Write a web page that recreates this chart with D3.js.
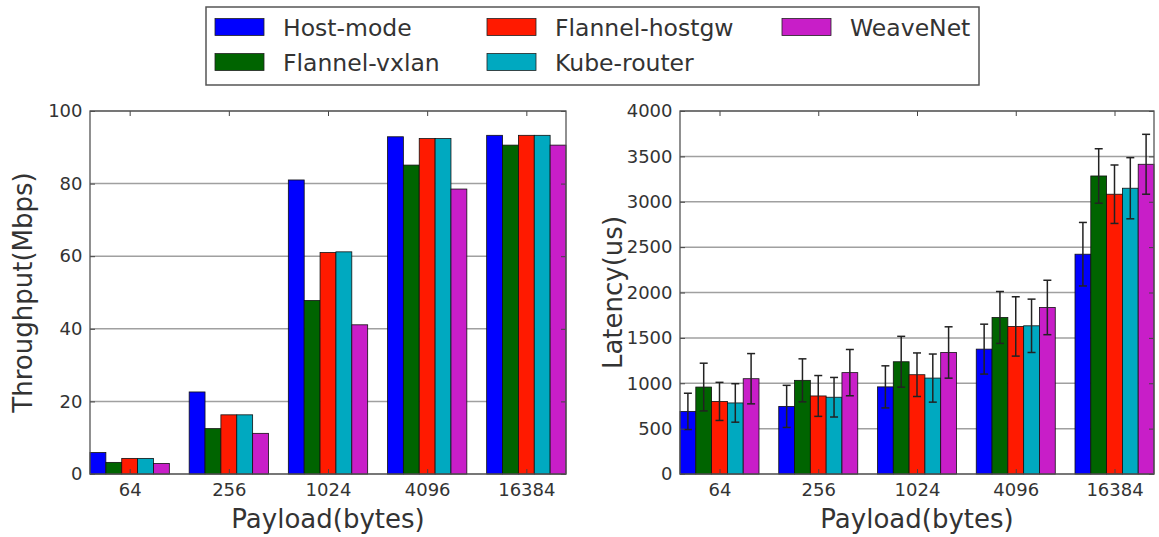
<!DOCTYPE html>
<html>
<head>
<meta charset="utf-8">
<script src="https://cdn.jsdelivr.net/npm/d3@7/dist/d3.min.js"></script>
<style>
	body { margin: 0; background: #fff; }
	svg { display: block; font-family: "DejaVu Sans", sans-serif; }
	.tick text { fill: #333; font-size: 18px; }
	.tick line { stroke: #444; stroke-width: 1; }
</style>
</head>
<body>
<svg id="chart" width="1159" height="537"></svg>
<script>
/** data */
var payloads = ['64', '256', '1024', '4096', '16384'];
var seriesNames = ['Host-mode', 'Flannel-vxlan', 'Flannel-hostgw', 'Kube-router', 'WeaveNet'];
var seriesColors = ['#0000ff', '#006400', '#ff1a00', '#00a9c0', '#c81ec8'];

// throughput (Mbps) per series, one value per payload
var thrHost   = [5.9, 22.6, 81.0, 92.9, 93.3];
var thrVxlan  = [3.2, 12.5, 47.8, 85.1, 90.6];
var thrHostgw = [4.3, 16.3, 61.0, 92.4, 93.3];
var thrKube   = [4.3, 16.3, 61.2, 92.4, 93.3];
var thrWeave  = [2.9, 11.2, 41.1, 78.5, 90.6];

// latency (us) and its error per series
var latHost   = [690, 745, 960, 1376, 2422];
var latVxlan  = [958, 1032, 1237, 1725, 3284];
var latHostgw = [800, 860, 1094, 1626, 3083];
var latKube   = [783, 846, 1057, 1633, 3149];
var latWeave  = [1050, 1117, 1339, 1835, 3413];
var errHost   = [200, 232, 232, 275, 350];
var errVxlan  = [263, 237, 280, 286, 300];
var errHostgw = [210, 225, 240, 327, 322];
var errKube   = [212, 218, 265, 294, 337];
var errWeave  = [277, 255, 283, 300, 330];

var thrTicks = [0, 20, 40, 60, 80, 100];
var latTicks = [0, 500, 1000, 1500, 2000, 2500, 3000, 3500, 4000];

var svg = d3.select('#chart');
var barWidth = 0.16;

/** draw one bar panel */
function drawPanel(p){
	var x = d3.scaleLinear().domain([0, payloads.length * 0.96]).range([p.left, p.right]);
	var y = d3.scaleLinear().domain([0, p.max]).range([p.bottom, p.top]);
	var g = svg.append('g');

	// horizontal grid
	g.selectAll('line.grid')
	.data(p.ticks)
	.enter()
	.append('line')
	.attr('class', 'grid')
	.attr('x1', p.left).attr('x2', p.right)
	.attr('y1', function(d){ return y(d); })
	.attr('y2', function(d){ return y(d); })
	.attr('stroke', '#a0a0a0')
	.attr('stroke-width', 1.5);

	// bars
	p.series.forEach(function(vals, s){
		g.selectAll('rect.s' + s)
		.data(vals)
		.enter()
		.append('rect')
		.attr('class', 's' + s)
		.attr('x', function(d, i){ return x(i + s * barWidth); })
		.attr('width', x(barWidth) - x(0))
		.attr('y', function(d){ return y(d); })
		.attr('height', function(d){ return y(0) - y(d); })
		.attr('fill', seriesColors[s])
		.attr('stroke', '#111')
		.attr('stroke-width', 0.8);
	});

	// error bars
	if(p.errors){
		p.errors.forEach(function(errs, s){
			var vals = p.series[s];
			errs.forEach(function(e, i){
				var cx = x(i + s * barWidth + barWidth / 2);
				var lo = y(vals[i] - e), hi = y(vals[i] + e);
				g.append('line').attr('x1', cx).attr('x2', cx).attr('y1', lo).attr('y2', hi)
				.attr('stroke', '#222').attr('stroke-width', 1.5);
				[lo, hi].forEach(function(yy){
					g.append('line').attr('x1', cx - 4).attr('x2', cx + 4).attr('y1', yy).attr('y2', yy)
					.attr('stroke', '#222').attr('stroke-width', 1.5);
				});
			});
		});
	}

	// axes, ticks inward on all four sides
	var centers = payloads.map(function(d, i){ return i + 0.4; });
	var xAxis = d3.axisBottom(x).tickValues(centers)
		.tickFormat(function(d, i){ return payloads[i]; })
		.tickSizeInner(-5).tickSizeOuter(0).tickPadding(9.5);
	g.append('g').attr('transform', 'translate(0,' + p.bottom + ')').call(xAxis)
	.call(function(a){ a.select('.domain').remove(); });
	g.append('g').attr('transform', 'translate(0,' + p.top + ')')
	.call(d3.axisTop(x).tickValues(centers).tickFormat('').tickSizeInner(-5).tickSizeOuter(0))
	.call(function(a){ a.select('.domain').remove(); });

	g.append('g').attr('transform', 'translate(' + p.left + ',0)')
	.call(d3.axisLeft(y).tickValues(p.ticks).tickFormat(d3.format('d'))
		.tickSizeInner(-5).tickSizeOuter(0).tickPadding(7.5))
	.call(function(a){ a.select('.domain').remove(); });
	g.append('g').attr('transform', 'translate(' + p.right + ',0)')
	.call(d3.axisRight(y).tickValues(p.ticks).tickFormat('').tickSizeInner(-5).tickSizeOuter(0))
	.call(function(a){ a.select('.domain').remove(); });

	g.selectAll('.tick text').attr('font-family', '"DejaVu Sans", sans-serif');

	// frame
	g.append('rect')
	.attr('x', p.left).attr('y', p.top)
	.attr('width', p.right - p.left).attr('height', p.bottom - p.top)
	.attr('fill', 'none').attr('stroke', '#555').attr('stroke-width', 1.3);

	// axis titles
	g.append('text')
	.attr('x', (p.left + p.right) / 2).attr('y', 528)
	.attr('text-anchor', 'middle').attr('font-size', 26).attr('fill', '#333')
	.text('Payload(bytes)');
	g.append('text')
	.attr('transform', 'translate(' + (p.left - 58) + ',' + ((p.top + p.bottom) / 2) + ') rotate(-90)')
	.attr('text-anchor', 'middle').attr('font-size', 26).attr('fill', '#333')
	.text(p.yLabel);
}

drawPanel({
	left: 90, right: 566, top: 111, bottom: 474, max: 100,
	ticks: thrTicks, yLabel: 'Throughput(Mbps)',
	series: [thrHost, thrVxlan, thrHostgw, thrKube, thrWeave]
});

drawPanel({
	left: 680, right: 1154, top: 111, bottom: 474, max: 4000,
	ticks: latTicks, yLabel: 'Latency(us)',
	series: [latHost, latVxlan, latHostgw, latKube, latWeave],
	errors: [errHost, errVxlan, errHostgw, errKube, errWeave]
});

/** legend */
var legendCols = [215, 487, 782];
var legendRows = [27, 62];
var legend = svg.append('g');
legend.append('rect')
.attr('x', 206).attr('y', 7).attr('width', 773).attr('height', 78)
.attr('fill', '#fff').attr('stroke', '#555').attr('stroke-width', 1.5);
seriesNames.forEach(function(name, s){
	var col = Math.floor(s / 2), row = s % 2;
	var lx = legendCols[col], ly = legendRows[row];
	legend.append('rect')
	.attr('x', lx).attr('y', ly - 8.5).attr('width', 49).attr('height', 17)
	.attr('fill', seriesColors[s]).attr('stroke', '#222').attr('stroke-width', 0.8);
	legend.append('text')
	.attr('x', lx + 68).attr('y', ly + 9)
	.attr('font-size', 23.5).attr('fill', '#333')
	.text(name);
});
</script>
</body>
</html>
